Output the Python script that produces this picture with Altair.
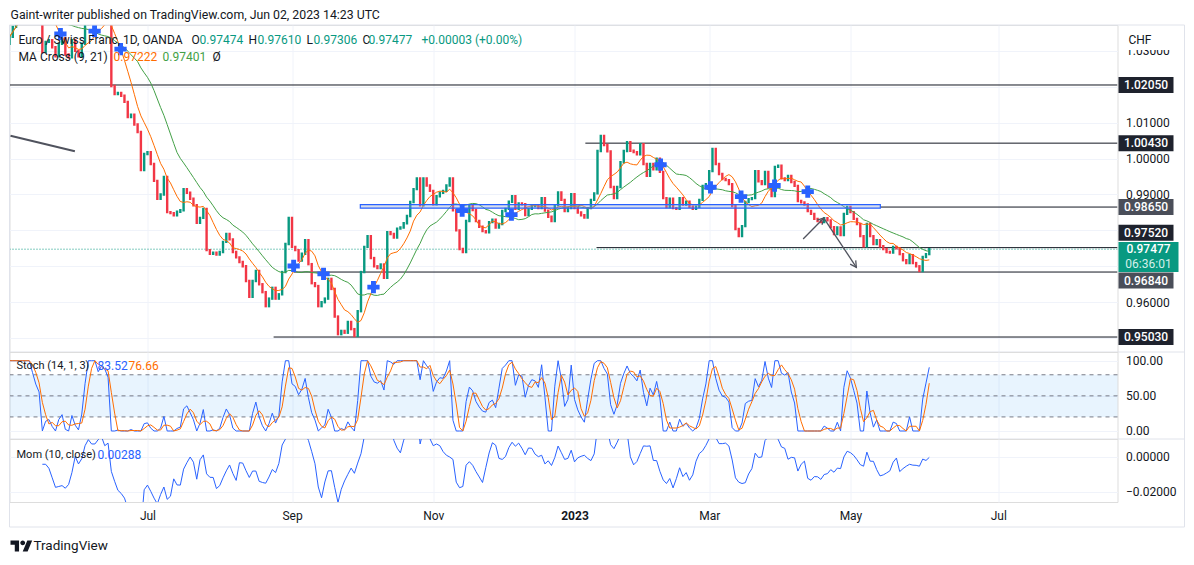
import altair as alt
import pandas as pd

# ---------------- data ----------------
first_open = 1.0320
closes = [
    1.0339,
    1.0367, 1.0395, 1.0430, 1.0460, 1.0490, 1.0500, 1.0470, 1.0440, 1.0420, 1.0297,
    1.0325, 1.0330, 1.0310, 1.0285, 1.0320, 1.0335, 1.0290, 1.0282, 1.0330, 1.0300,
    1.0285, 1.0320, 1.0375, 1.0385, 1.0395, 1.0410, 1.0390, 1.0400, 1.0395, 1.0380,
    1.0202, 1.0180, 1.0183, 1.0175, 1.0158, 1.0116, 1.0122, 1.0095, 1.0074, 0.9968,
    1.0013, 1.0018, 0.9985, 0.9938, 0.9888, 0.9900, 0.9949, 0.9851, 0.9848, 0.9842,
    0.9852, 0.9856, 0.9915, 0.9905, 0.9888, 0.9870, 0.9821, 0.9835, 0.9860, 0.9745,
    0.9735, 0.9738, 0.9733, 0.9740, 0.9768, 0.9790, 0.9775, 0.9740, 0.9725, 0.9712,
    0.9700, 0.9659, 0.9615, 0.9659, 0.9687, 0.9650, 0.9628, 0.9589, 0.9610, 0.9640,
    0.9610, 0.9622, 0.9684, 0.9762, 0.9835, 0.9754, 0.9745, 0.9716, 0.9735, 0.9773,
    0.9706, 0.9653, 0.9645, 0.9589, 0.9600, 0.9610, 0.9665, 0.9637, 0.9560, 0.9511,
    0.9520, 0.9515, 0.9545, 0.9525, 0.9506, 0.9575, 0.9684, 0.9754, 0.9784, 0.9723,
    0.9700, 0.9695, 0.9705, 0.9668, 0.9795, 0.9790, 0.9780, 0.9805, 0.9808, 0.9820,
    0.9840, 0.9879, 0.9915, 0.9945, 0.9870, 0.9945, 0.9925, 0.9910, 0.9873, 0.9895,
    0.9905, 0.9910, 0.9925, 0.9945, 0.9856, 0.9800, 0.9748, 0.9740, 0.9826, 0.9868,
    0.9857, 0.9826, 0.9810, 0.9798, 0.9795, 0.9823, 0.9830, 0.9808, 0.9818, 0.9854,
    0.9860, 0.9880, 0.9895, 0.9860, 0.9875, 0.9873, 0.9843, 0.9860, 0.9868, 0.9870,
    0.9862, 0.9890, 0.9855, 0.9838, 0.9826, 0.9870, 0.9906, 0.9885, 0.9854, 0.9862,
    0.9901, 0.9862, 0.9850, 0.9842, 0.9836, 0.9862, 0.9885, 0.9903, 1.0021, 1.0063,
    1.0038, 1.0020, 0.9921, 0.9890, 0.9921, 0.9990, 1.0021, 1.0046, 1.0022, 1.0018,
    1.0012, 1.0040, 0.9985, 0.9952, 0.9985, 0.9970, 1.0000, 0.9963, 0.9890, 0.9865,
    0.9888, 0.9862, 0.9860, 0.9890, 0.9872, 0.9880, 0.9866, 0.9860, 0.9866, 0.9885,
    0.9924, 0.9929, 0.9965, 1.0027, 0.9985, 0.9957, 0.9943, 0.9940, 0.9929, 0.9868,
    0.9804, 0.9784, 0.9812, 0.9879, 0.9887, 0.9890, 0.9965, 0.9937, 0.9929, 0.9963,
    0.9920, 0.9896, 0.9977, 0.9980, 0.9945, 0.9940, 0.9952, 0.9935, 0.9924, 0.9882,
    0.9878, 0.9872, 0.9854, 0.9846, 0.9832, 0.9826, 0.9823, 0.9834, 0.9828, 0.9809,
    0.9790, 0.9808, 0.9787, 0.9846, 0.9865, 0.9851, 0.9832, 0.9818, 0.9784, 0.9756,
    0.9818, 0.9784, 0.9762, 0.9773, 0.9756, 0.9748, 0.9740, 0.9738, 0.9754, 0.9750,
    0.9734, 0.9717, 0.9709, 0.9731, 0.9709, 0.9700, 0.9687, 0.9726, 0.9734, 0.97477,
]

cross_bar = [15.5, 25.9, 33.8, 86.5, 95.6, 110.8, 137.8, 152.8, 198.2, 213.4, 222.7, 232.9, 243.0]
cross_price = [1.0347, 1.0355, 1.0305, 0.9701, 0.9679, 0.9642, 0.9855, 0.9844, 0.9983, 0.9920, 0.9894, 0.9925, 0.9908]

level_price = [1.0205, 1.0043, 0.9865, 0.9752, 0.9684, 0.9503]
level_start = [0.0, 175.3, 265.1, 178.7, 86.5, 80.4]
level_text = ["1.02050", "1.00430", "0.98650", "0.97520", "0.96840", "0.95030"]

rect_bar = [106.8, 265.1]
rect_price = [0.9862, 0.9872]
trend_bar = [0.3, 19.9]
trend_price = [1.00638, 1.00203]
arrow1_bar = [241.6, 247.9]
arrow1_price = [0.97760, 0.98345]
arrow2_bar = [248.1, 257.8]
arrow2_price = [0.98317, 0.96972]

stoch_levels = [20, 50, 80]
price_ticks = [0.95, 0.96, 0.97, 0.98, 0.99, 1.00, 1.01, 1.02, 1.03]
no_bar_days = ["2022-12-26", "2023-01-02"]

# ---------------- styling ----------------
UP, DN = "#089981", "#f23645"
ORG, GRN, BLU = "#ff6d00", "#43a047", "#2962ff"
DARK, FRAME, GRID, DRAW = "#131722", "#e0e3eb", "#f0f3fa", "#50535e"
FONT = "Roboto"
W = 1108
H_MAIN, H_ST, H_MOM = 327, 87, 63

n = len(closes)
opens = [first_open] + closes[:-1]
df = pd.DataFrame({"i": list(range(n)), "o": opens, "c": closes})
one = pd.DataFrame({"k": [0]})

# month ticks on a trading-bar axis
X_MAX = 337.3
start = pd.bdate_range(end="2023-06-02", periods=n, freq="C", holidays=no_bar_days)[0]
full = pd.bdate_range(start=start, periods=360, freq="C", holidays=no_bar_days)
names = {3: "Mar", 5: "May", 7: "Jul", 9: "Sep", 11: "Nov"}
ticks = []
for k in range(1, len(full)):
    if k > X_MAX:
        break
    m = full[k].month
    if m != full[k - 1].month and m in (1, 3, 5, 7, 9, 11):
        ticks.append((k, str(full[k].year) if m == 1 else names[m]))
tick_vals = [t[0] for t in ticks]
jan_idx = [t[0] for t in ticks if t[1].isdigit()][0]
label_expr = "''"
for v, lab in reversed(ticks):
    label_expr = f"datum.value == {v} ? '{lab}' : {label_expr}"

XSC = alt.Scale(domain=[0, X_MAX], nice=False, zero=False)
XA_HID = alt.Axis(values=tick_vals, labels=False, ticks=False, domain=False,
                  grid=True, gridColor=GRID, title=None)
XA_BOT = alt.Axis(values=tick_vals, labelExpr=label_expr, ticks=False, domain=False,
                  grid=True, gridColor=GRID, title=None, labelPadding=8,
                  labelFontSize=12, labelColor=DARK, labelFont=FONT, labelFlush=False,
                  labelOverlap=False,
                  labelFontWeight={"condition": {"test": f"datum.value == {jan_idx}", "value": "bold"},
                                   "value": "normal"})


def yaxis(values, fmt):
    return alt.Axis(orient="right", values=values, format=fmt, grid=True, gridColor=GRID,
                    ticks=False, domain=False, labelPadding=8, labelFontSize=12,
                    labelColor=DARK, labelFont=FONT, title=None, labelOverlap=False,
                    labelFlush=False)


Y_MAIN = alt.Scale(domain=[0.94613, 1.03721], nice=False, zero=False)
YA_MAIN = yaxis(price_ticks, ".5f")
Y_ST = alt.Scale(domain=[-11.4, 112.4], nice=False, zero=False)
YA_ST = yaxis([0, 50, 100], ".2f")
Y_MOM = alt.Scale(domain=[-0.02594, 0.01037], nice=False, zero=False)
YA_MOM = yaxis([-0.02, 0.0], ".5f")


def txt(s, x, y, color=DARK, size=12, align="left", weight="normal", yoff=0):
    return alt.Chart(one).mark_text(text=s, align=align, baseline="middle", fontSize=size,
                                    color=color, font=FONT, fontWeight=weight, clip=False,
                                    yOffset=yoff).encode(x=alt.value(x), y=alt.value(y))


def hline(y, x1, x2):
    return alt.Chart(one).mark_rule(color=FRAME, strokeWidth=1, clip=False).encode(
        x=alt.value(x1), x2=alt.value(x2), y=alt.value(y))


def vline(x, y1, y2):
    return alt.Chart(one).mark_rule(color=FRAME, strokeWidth=1, clip=False).encode(
        x=alt.value(x), y=alt.value(y1), y2=alt.value(y2))


def X(field):
    return alt.X(field, scale=XSC, axis=XA_HID)


def YM(field):
    return alt.Y(field, scale=Y_MAIN, axis=YA_MAIN)


# ---------------- main pane ----------------
df_lv = pd.DataFrame({"p": level_price, "s": level_start, "t": level_text})
levels = alt.Chart(df_lv).mark_rule(color=DARK, strokeWidth=1, clip=True).encode(
    x=X("s:Q"), x2=alt.value(W), y=YM("p:Q"))

df_last = pd.DataFrame({"p": [closes[-1]]})
last_line = alt.Chart(df_last).mark_rule(color=UP, strokeWidth=1, strokeDash=[1, 2], clip=True).encode(
    x=alt.value(0), x2=alt.value(W), y=YM("p:Q"))

candles = alt.Chart(df).mark_rule(strokeWidth=2.4, strokeCap="square", clip=True).encode(
    x=X("i:Q"), y=YM("o:Q"), y2="c:Q",
    color=alt.condition("datum.c >= datum.o", alt.value(UP), alt.value(DN)))

ma_base = alt.Chart(df).transform_window(
    ma9="mean(c)", frame=[-8, 0], sort=[{"field": "i"}]
).transform_window(
    ma21="mean(c)", frame=[-20, 0], sort=[{"field": "i"}])
ma21 = ma_base.mark_line(color=GRN, strokeWidth=1, clip=True).encode(x=X("i:Q"), y=YM("ma21:Q"))
ma9 = ma_base.mark_line(color=ORG, strokeWidth=1, clip=True).encode(x=X("i:Q"), y=YM("ma9:Q"))

df_rect = pd.DataFrame({"x1": [rect_bar[0]], "x2": [rect_bar[1]],
                        "p1": [rect_price[0]], "p2": [rect_price[1]]})
rect = alt.Chart(df_rect).mark_rect(fill="#8fa3c8", fillOpacity=0.35, stroke=BLU, strokeWidth=1.2,
                                    clip=True).encode(x=X("x1:Q"), x2="x2:Q", y=YM("p1:Q"), y2="p2:Q")

df_trend = pd.DataFrame({"i": trend_bar, "p": trend_price})
trend = alt.Chart(df_trend).mark_line(color=DRAW, strokeWidth=2, clip=True).encode(
    x=X("i:Q"), y=YM("p:Q"))
df_a1 = pd.DataFrame({"i": arrow1_bar, "p": arrow1_price})
df_a2 = pd.DataFrame({"i": arrow2_bar, "p": arrow2_price})
a1 = alt.Chart(df_a1).mark_line(color=DRAW, strokeWidth=1.3).encode(x=X("i:Q"), y=YM("p:Q"))
a2 = alt.Chart(df_a2).mark_line(color=DRAW, strokeWidth=1.3).encode(x=X("i:Q"), y=YM("p:Q"))
VSHAPE = "M-0.55,1 L0,0 L0.55,1"
h1 = alt.Chart(df_a1.tail(1)).mark_point(shape=VSHAPE, filled=False, color=DRAW, strokeWidth=1.3,
                                         size=150, angle=44, opacity=1).encode(x=X("i:Q"), y=YM("p:Q"))
h2 = alt.Chart(df_a2.tail(1)).mark_point(shape=VSHAPE, filled=False, color=DRAW, strokeWidth=1.3,
                                         size=150, angle=146, opacity=1).encode(x=X("i:Q"), y=YM("p:Q"))

df_cross = pd.DataFrame({"i": cross_bar, "p": cross_price})
crosses = alt.Chart(df_cross).mark_point(shape="cross", filled=True, color=BLU, size=150,
                                         opacity=1, clip=True).encode(x=X("i:Q"), y=YM("p:Q"))

# white patch behind the currency label (hides the upper half of the top tick label)
chf_patch = alt.Chart(one).mark_rect(color="white", clip=False).encode(
    x=alt.value(1110), x2=alt.value(1172), y=alt.value(1), y2=alt.value(25))

box_layers = []
box_offsets = [0, 0, 0, -15, 8.5, 0]
box_colors = ["#1e222d", "#1e222d", "#4a4e59", "#1e222d", "#4a4e59", "#1e222d"]
for k in range(len(level_price)):
    d1 = df_lv.iloc[[k]]
    off = box_offsets[k]
    box_layers.append(alt.Chart(d1).mark_rect(color=box_colors[k], clip=False,
                                              yOffset=off - 8, y2Offset=off + 8).encode(
        x=alt.value(1109), x2=alt.value(1164), y=YM("p:Q"), y2="p:Q"))
    box_layers.append(alt.Chart(d1).mark_text(color="white", fontSize=12, font=FONT, fontWeight=500,
                                              align="center", baseline="middle", clip=False,
                                              yOffset=off).encode(
        x=alt.value(1136.5), y=YM("p:Q"), text="t:N"))
cur_box = alt.Chart(df_last).mark_rect(color=UP, clip=False, yOffset=-7.2, y2Offset=22.8).encode(
    x=alt.value(1109), x2=alt.value(1169), y=YM("p:Q"), y2="p:Q")
cur_t1 = alt.Chart(df_last).mark_text(color="white", fontSize=12, font=FONT, fontWeight=500,
                                      align="center", baseline="middle", clip=False, text="0.97477").encode(
    x=alt.value(1139), y=YM("p:Q"))
cur_t2 = alt.Chart(df_last).mark_text(color="#d5f0ea", fontSize=12, font=FONT,
                                      align="center", baseline="middle", clip=False, yOffset=15,
                                      text="06:36:01").encode(x=alt.value(1139), y=YM("p:Q"))

main_texts = [
    txt("Gaint-writer published on TradingView.com, Jun 02, 2023 14:23 UTC", 1, -10, size=12.3),
    txt("Euro / Swiss Franc, 1D, OANDA", 9, 15),
    txt("O", 182, 15), txt("0.97474", 190, 15, UP),
    txt("H", 239, 15), txt("0.97610", 248, 15, UP),
    txt("L", 297, 15), txt("0.97306", 304, 15, UP),
    txt("C", 353, 15), txt("0.97477", 359, 15, UP),
    txt("+0.00003 (+0.00%)", 412, 15, UP),
    txt("MA Cross (9, 21)", 9, 32), txt("0.97222", 104, 32, ORG),
    txt("0.97401", 153, 32, GRN), txt("Ø", 203, 32),
    txt("CHF", 1119, 15),
]
main_frame = [hline(0, 0, 1175), vline(0, 0, H_MAIN), vline(1175, 0, H_MAIN), hline(H_MAIN, 0, 1175)]

main = alt.layer(
    levels, last_line, candles, ma21, ma9, rect, trend, a1, a2, h1, h2, crosses, chf_patch,
    *box_layers, cur_box, cur_t1, cur_t2, *main_texts, *main_frame
).properties(width=W, height=H_MAIN)

# ---------------- stochastic pane ----------------
st_base = alt.Chart(df).transform_calculate(
    h="max(datum.o, datum.c)", l="min(datum.o, datum.c)"
).transform_window(
    hh="max(h)", ll="min(l)", frame=[-13, 0], sort=[{"field": "i"}]
).transform_calculate(
    k="datum.hh > datum.ll ? 100 * (datum.c - datum.ll) / (datum.hh - datum.ll) : 50"
).transform_window(
    d="mean(k)", frame=[-2, 0], sort=[{"field": "i"}])

df_band = pd.DataFrame({"lo": [stoch_levels[0]], "hi": [stoch_levels[-1]]})
band = alt.Chart(df_band).mark_rect(color="#2196f3", opacity=0.1).encode(
    x=alt.value(0), x2=alt.value(W),
    y=alt.Y("lo:Q", scale=Y_ST, axis=YA_ST), y2="hi:Q")
df_sl = pd.DataFrame({"v": stoch_levels})
st_lines = alt.Chart(df_sl).mark_rule(color="#787b86", strokeDash=[4, 4], strokeWidth=1).encode(
    x=alt.value(0), x2=alt.value(W), y=alt.Y("v:Q", scale=Y_ST, axis=YA_ST))
st_k = st_base.mark_line(color=BLU, strokeWidth=1, clip=True).encode(
    x=X("i:Q"), y=alt.Y("k:Q", scale=Y_ST, axis=YA_ST))
st_d = st_base.mark_line(color=ORG, strokeWidth=1, clip=True).encode(
    x=X("i:Q"), y=alt.Y("d:Q", scale=Y_ST, axis=YA_ST))
st_texts = [txt("Stoch (14, 1, 3)", 7, 14, size=11), txt("83.52", 88, 14, BLU),
            txt("76.66", 119, 14, ORG)]
st_frame = [vline(0, 0, H_ST), vline(1175, 0, H_ST), hline(H_ST, 0, 1175)]
stoch = alt.layer(band, st_lines, st_k, st_d, *st_texts, *st_frame).properties(width=W, height=H_ST)

# ---------------- momentum pane ----------------
mom_base = alt.Chart(df).transform_window(
    window=[alt.WindowFieldDef(op="lag", field="c", param=10, **{"as": "c10"})],
    sort=[{"field": "i"}]
).transform_filter("datum.c10 != null").transform_calculate(m="datum.c - datum.c10")
mom_line = mom_base.mark_line(color=BLU, strokeWidth=1, clip=True).encode(
    x=alt.X("i:Q", scale=XSC, axis=XA_BOT), y=alt.Y("m:Q", scale=Y_MOM, axis=YA_MOM))
LOGO = ("M-0.222,0.444 L-0.611,0.444 L-0.611,-0.167 L-1,-0.167 L-1,-0.556 L-0.222,-0.556 Z "
        "M0.556,0.444 L0.111,0.444 L0.528,-0.556 L0.972,-0.556 Z "
        "M-0.111,-0.333 A0.222,0.222 0 1,0 0.333,-0.333 A0.222,0.222 0 1,0 -0.111,-0.333 Z")
logo = alt.Chart(one).mark_point(shape=LOGO, filled=True, color=DARK, size=484, opacity=1,
                                 clip=False).encode(x=alt.value(12), y=alt.value(107.5))
mom_texts = [txt("Mom (10, close)", 7, 16, size=11), txt("0.00288", 88, 16, BLU),
             txt("TradingView", 24, 107, DARK, size=13.5)]
mom_frame = [vline(0, 0, H_MOM + 25), vline(1175, 0, H_MOM + 25), hline(H_MOM + 25, 0, 1175)]
mom = alt.layer(mom_line, logo, *mom_texts, *mom_frame).properties(width=W, height=H_MOM)

chart = alt.vconcat(main, stoch, mom, spacing=0, bounds="flush").properties(
    padding={"left": 0.5, "top": 0, "right": 0, "bottom": 2},
    background="white",
).configure_view(stroke=None).configure(font=FONT)

chart.save("out.html", embed_options={"renderer": "svg", "actions": False})
